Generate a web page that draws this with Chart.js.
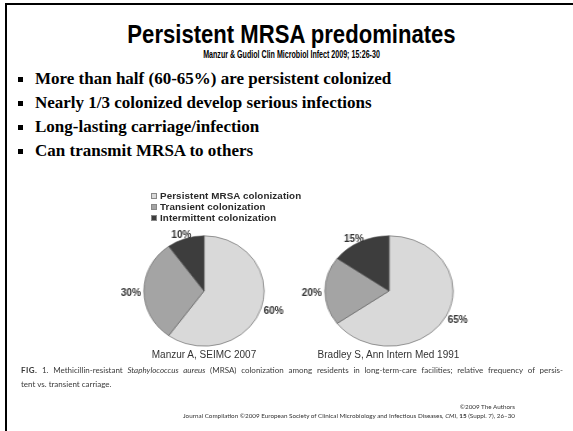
<!DOCTYPE html>
<html>
<head>
<meta charset="utf-8">
<script src="https://cdn.jsdelivr.net/npm/chart.js@4/dist/chart.umd.min.js"></script>
<style>
  html, body { margin: 0; padding: 0; background: #fff; }
  #slide { position: relative; width: 573px; height: 431px; overflow: hidden; background: #fff; }
  .frame { position: absolute; left: 5px; top: 3px; width: 580px; height: 440px;
           border-top: 2px solid #000; border-left: 2px solid #000; }
  .title { position: absolute; left: 5px; width: 573px; top: 21px; text-align: center;
           font: bold 26px/26px "Liberation Sans", Arial, sans-serif; color: #000;
           transform: scaleX(0.85); }
  .subtitle { position: absolute; left: 5px; width: 573px; top: 50px; text-align: center;
              font: bold 10px/10px "Liberation Sans", Arial, sans-serif; color: #000;
              transform: scaleX(0.71); }
  .bullets { position: absolute; left: 18px; top: 67px; margin: 0; padding: 0; list-style: none;
             font: bold 17px/24px "Liberation Serif", "Times New Roman", serif; color: #000; }
  .bullets li { position: relative; padding-left: 17px; white-space: nowrap; }
  .bullets li::before { content: ""; position: absolute; left: 0; top: 10px; width: 5px; height: 5px; background: #000; }
  .fig { filter: blur(0.35px); }
  canvas { position: absolute; }
  #legend { position: absolute; left: 151px; top: 191px; margin: 0; padding: 0; list-style: none;
            font: bold 9.8px/10.8px "Liberation Sans", Arial, sans-serif; color: #2a2a2a; letter-spacing: 0.1px; }
  #legend li { white-space: nowrap; }
  #legend .box { display: inline-block; width: 6px; height: 6px; margin-right: 3px; vertical-align: 0px;
                 border: 0.5px solid #888; box-sizing: border-box; }
  .source { position: absolute; top: 349px; width: 200px; text-align: center;
            font: 10px/12px "Liberation Sans", Arial, sans-serif; color: #333; white-space: nowrap; }
  .caption { position: absolute; left: 21px; top: 363px; width: 542px; color: #3a3a3a;
             font: 8px/14px Lato, "Open Sans", sans-serif; }
  .caption .l1 { text-align: justify; text-align-last: justify; white-space: nowrap; }
  .caption b { font-weight: bold; letter-spacing: 0.4px; }
  .footer { position: absolute; right: 58px; top: 403px; text-align: right; color: #333;
            font: 6.3px/8.5px Lato, "Open Sans", sans-serif; white-space: nowrap; }
</style>
</head>
<body>
<div id="slide">
  <div class="frame"></div>
  <div class="title">Persistent MRSA predominates</div>
  <div class="subtitle">Manzur &amp; Gudiol Clin Microbiol Infect 2009; 15:26-30</div>
  <ul class="bullets">
    <li>More than half (60-65%) are persistent colonized</li>
    <li>Nearly 1/3 colonized develop serious infections</li>
    <li>Long-lasting carriage/infection</li>
    <li>Can transmit MRSA to others</li>
  </ul>

  <div class="fig">
    <ul id="legend"></ul>
    <canvas id="pie-manzur" width="170" height="150"></canvas>
    <canvas id="pie-bradley" width="170" height="150"></canvas>
    <div class="source" id="src-manzur"></div>
    <div class="source" id="src-bradley"></div>

    <div class="caption">
      <div class="l1"><b>FIG.</b> 1. Methicillin-resistant <i>Staphylococcus aureus</i> (MRSA) colonization among residents in long-term-care facilities; relative frequency of persis-</div>
      <div>tent vs. transient carriage.</div>
    </div>
    <div class="footer">
      ©2009 The Authors<br>
      Journal Compilation ©2009 European Society of Clinical Microbiology and Infectious Diseases, <i>CMI</i>, <b>15</b> (Suppl. 7), 26–30
    </div>
  </div>
</div>

<script>
// Colonization categories and the two study breakdowns (percent)
const categories = ['Persistent MRSA colonization', 'Transient colonization', 'Intermittent colonization'];
const manzurValues = [60, 30, 10];
const bradleyValues = [65, 20, 15];
const sourceLabels = ['Manzur A, SEIMC 2007', 'Bradley S, Ann Intern Med 1991'];

const sliceColors = ['#d9d9d9', '#a4a4a4', '#3d3d3d'];

/**
 * Writes "NN%" just outside each slice, at the slice's middle angle.
 * The canvas is stretched sideways with CSS, so text is squeezed back by the same factor.
 */
const outsideLabels = {
    id: 'outsideLabels',
    afterDatasetsDraw(chart, args, opts) {
        const ctx = chart.ctx;
        const sx = opts.stretch || 1;
        const values = chart.data.datasets[0].data;
        ctx.save();
        ctx.font = 'bold 10px "Liberation Sans", Arial, sans-serif';
        ctx.fillStyle = '#333';
        ctx.textAlign = 'center';
        ctx.textBaseline = 'middle';
        chart.getDatasetMeta(0).data.forEach((arc, i) => {
            const p = arc.getProps(['x', 'y', 'startAngle', 'endAngle', 'outerRadius'], true);
            const mid = (p.startAngle + p.endAngle) / 2;
            const dx = Math.cos(mid), dy = Math.sin(mid);
            const text = values[i] + '%';
            const w = ctx.measureText(text).width;
            const gap = 3;
            // screen-pixel offsets; x is converted back to canvas units
            const vx = dx * (p.outerRadius * sx + gap) + dx * w / 2;
            const vy = dy * (p.outerRadius + gap) + dy * 2 + 2;
            ctx.save();
            ctx.translate(p.x + vx / sx, p.y + vy);
            ctx.scale(1 / sx, 1);
            ctx.fillText(text, 0, 0);
            ctx.restore();
        });
        ctx.restore();
    }
};

function makePie(id, values, center, ry, rx) {
    const canvas = document.getElementById(id);
    const w = canvas.width, h = canvas.height;
    const padX = (w - 2 * ry) / 2, padY = (h - 2 * ry) / 2;
    canvas.style.left = (center[0] - w / 2) + 'px';
    canvas.style.top = (center[1] - h / 2) + 'px';
    canvas.style.transform = 'scaleX(' + (rx / ry) + ')';

    return new Chart(canvas, {
        type: 'pie',
        data: {
            labels: categories,
            datasets: [{
                data: values,
                backgroundColor: sliceColors,
                borderColor: '#5a5a5a',
                borderWidth: 0.6
            }]
        },
        options: {
            responsive: false,
            animation: false,
            devicePixelRatio: 1,
            layout: { padding: { left: padX, right: padX, top: padY, bottom: padY } },
            plugins: {
                legend: { display: false },
                tooltip: { enabled: false },
                outsideLabels: { stretch: rx / ry }
            }
        },
        plugins: [outsideLabels]
    });
}

const pieCenters = [[204, 290.5], [388.5, 291]];
const manzurChart = makePie('pie-manzur', manzurValues, pieCenters[0], 55.5, 60.5);
makePie('pie-bradley', bradleyValues, pieCenters[1], 55.5, 64.5);

// legend built from the chart's own legend items
const legendEl = document.getElementById('legend');
manzurChart.options.plugins.legend.labels.generateLabels(manzurChart).forEach(item => {
    const li = document.createElement('li');
    const box = document.createElement('span');
    box.className = 'box';
    box.style.background = item.fillStyle;
    li.appendChild(box);
    li.appendChild(document.createTextNode(item.text));
    legendEl.appendChild(li);
});

// study names centred under each pie
['src-manzur', 'src-bradley'].forEach((id, i) => {
    const el = document.getElementById(id);
    el.textContent = sourceLabels[i];
    el.style.left = (pieCenters[i][0] - 100) + 'px';
});
</script>
</body>
</html>
